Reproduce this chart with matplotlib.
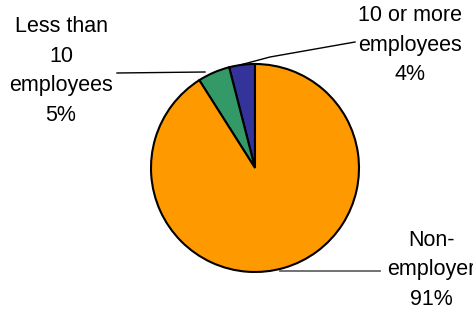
import matplotlib
matplotlib.use("Agg")
import matplotlib.pyplot as plt

labels = ["10 or more\nemployees\n4%", "Less than\n10\nemployees\n5%", "Non-\nemployer\n91%"]
values = [4, 5, 91]
colors = ["#333399", "#339966", "#FF9900"]

W, H = 473, 311
fig = plt.figure(figsize=(W/100, H/100), dpi=100)
ax = fig.add_axes([0, 0, 1, 1])
ax.set_xlim(0, W)
ax.set_ylim(0, H)
ax.set_aspect("equal")
ax.axis("off")

cx, cy, r = 255, H - 168, 104
ax.pie(values, colors=colors, startangle=90, counterclock=True,
       center=(cx, cy), radius=r, frame=True,
       wedgeprops=dict(edgecolor="black", linewidth=1.5))
ax.set_xlim(0, W)
ax.set_ylim(0, H)
ax.axis("off")

font = dict(family="Liberation Sans", fontsize=15.5, ha="center", va="center", linespacing=1.55)
ax.text(410, H - 45, labels[0], **font)
ax.text(61, H - 71, labels[1], **font)
ax.text(431, H - 270, labels[2], **font, clip_on=False)

# leader lines
ax.plot([240, 270, 355], [H - 65, H - 57, H - 42], color="black", lw=1)
ax.plot([117, 205], [H - 73, H - 72], color="black", lw=1)
ax.plot([280, 380], [H - 271, H - 271], color="#666666", lw=1.3)

fig.savefig("out.png", dpi=100)
